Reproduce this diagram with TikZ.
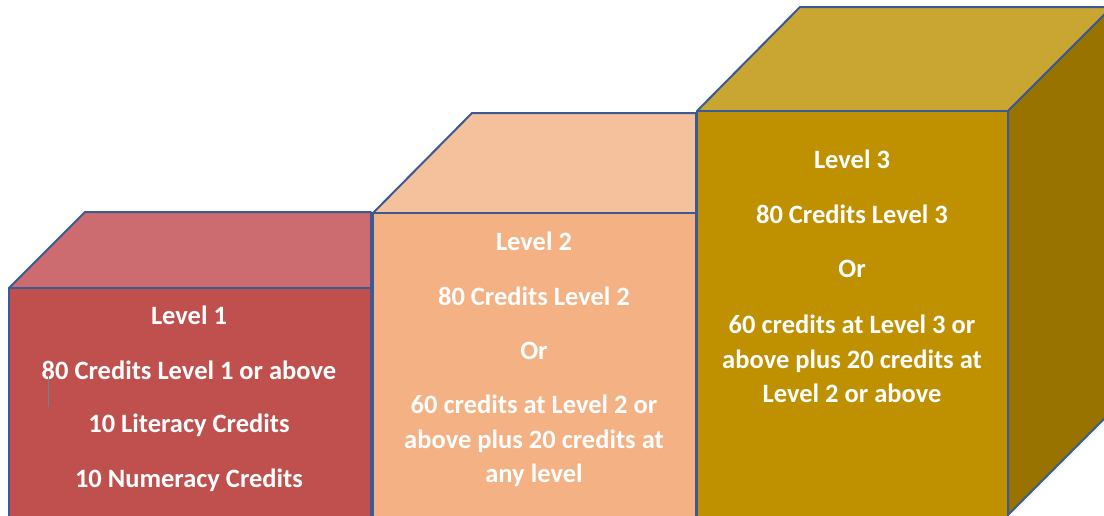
\documentclass[tikz,border=0pt]{standalone}
\usepackage{fontspec}
\setmainfont{Carlito}
\definecolor{edgeblue}{HTML}{3B5A93}
\definecolor{redfront}{HTML}{C0504D}
\definecolor{redtop}{HTML}{CC6C70}
\definecolor{peachfront}{HTML}{F4B183}
\definecolor{peachtop}{HTML}{F5C19D}
\definecolor{goldfront}{HTML}{BF9000}
\definecolor{goldtop}{HTML}{C9A532}
\definecolor{goldside}{HTML}{987300}
\definecolor{caret}{HTML}{5E8C8C}
\begin{document}
\begin{tikzpicture}[x=1pt, y=-1pt,
    face/.style={draw=edgeblue, line width=2pt, line join=round},
    txt/.style={text=white, font=\fontsize{26.5}{34.5}\selectfont\bfseries, align=center, inner sep=0pt}]
    \useasboundingbox (0,0) rectangle (1104,515);
    \clip (0,0) rectangle (1104,515);
    % Level 1 block
    \draw [face, fill=redtop] (9,288) -- (85,212) -- (371,212) -- (371,288) -- cycle;
    \draw [face, fill=redfront] (9,288) rectangle (371,530);
    % Level 2 block
    \draw [face, fill=peachtop] (373,213) -- (472,113) -- (696,113) -- (696,213) -- cycle;
    \draw [face, fill=peachfront] (373,213) rectangle (696,530);
    % Level 3 block
    \draw [face, fill=goldtop] (697,111) -- (800,7) -- (1112,7) -- (1008,111) -- cycle;
    \draw [face, fill=goldside] (1008,111) -- (1112,7) -- (1112,411) -- (1008,515) -- cycle;
    \draw [face, fill=goldfront] (697,111) rectangle (1008,530);
    % Texts of level 1
    \node [txt] (l1title) at (189,315) {Level 1};
    \node [txt] (l1main) at (189,370) {80 Credits Level 1 or above};
    \node [txt] (l1lit) at (189,425) {10 Literacy Credits};
    \node [txt] (l1num) at (189,480) {10 Numeracy Credits};
    \draw [caret, line width=0.8pt] (48,376) -- (48,407);
    % Texts of level 2
    \node [txt] (l2title) at (534,241) {Level 2};
    \node [txt] (l2main) at (534,296) {80 Credits Level 2};
    \node [txt] (l2or) at (534,351) {Or};
    \node [txt] (l2alt) at (534,441) {60 credits at Level 2 or\\above plus 20 credits at\\any level};
    % Texts of level 3
    \node [txt] (l3title) at (852,159) {Level 3};
    \node [txt] (l3main) at (852,214) {80 Credits Level 3};
    \node [txt] (l3or) at (852,269) {Or};
    \node [txt] (l3alt) at (852,359) {60 credits at Level 3 or\\above plus 20 credits at\\Level 2 or above};
\end{tikzpicture}
\end{document}
